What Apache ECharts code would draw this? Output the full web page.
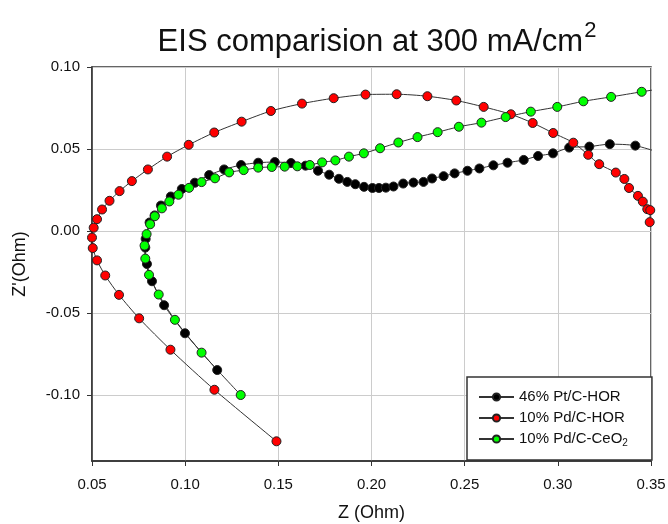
<!DOCTYPE html>
<html>
<head>
<meta charset="utf-8">
<script src="https://cdn.jsdelivr.net/npm/echarts@6/dist/echarts.min.js"></script>
<style>
html,body{margin:0;padding:0;background:#fff;}
#chart{width:668px;height:524px;}
</style>
</head>
<body>
<div id="chart"></div>
<script>
// ---- data ----
var seriesNames = ['46% Pt/C-HOR', '10% Pd/C-HOR', '10% Pd/C-CeO2'];

var ptX = [0.1172,0.0999,0.0887,0.0822,0.0795,0.0786,0.0788,0.0809,0.0836,0.0870,0.0923,0.0982,0.1052,0.1129,0.1209,0.1300,0.1392,0.1481,0.1568,0.1646,0.1713,0.1773,0.1825,0.1870,0.1913,0.1960,0.2005,0.2040,0.2077,0.2118,0.2170,0.2225,0.2279,0.2325,0.2387,0.2446,0.2515,0.2579,0.2654,0.2730,0.2817,0.2894,0.2974,0.3061,0.3169,0.3279,0.3416,0.3600];
var ptY = [-0.0846,-0.0622,-0.0451,-0.0305,-0.0200,-0.0100,-0.0047,0.0053,0.0096,0.0156,0.0211,0.0257,0.0295,0.0342,0.0376,0.0403,0.0417,0.0421,0.0415,0.0399,0.0368,0.0344,0.0319,0.0300,0.0286,0.0270,0.0263,0.0263,0.0265,0.0272,0.0290,0.0296,0.0300,0.0321,0.0335,0.0352,0.0368,0.0382,0.0401,0.0417,0.0434,0.0458,0.0474,0.0509,0.0515,0.0530,0.0521,0.0460];

var pdX = [0.1490,0.1157,0.0921,0.0753,0.0645,0.0571,0.0527,0.0504,0.0500,0.0509,0.0527,0.0554,0.0594,0.0648,0.0714,0.0800,0.0903,0.1019,0.1156,0.1303,0.1460,0.1627,0.1797,0.1968,0.2135,0.2300,0.2455,0.2602,0.2748,0.2865,0.2975,0.3083,0.3163,0.3222,0.3311,0.3357,0.3382,0.3430,0.3456,0.3480,0.3496,0.3493];
var pdY = [-0.1280,-0.0966,-0.0722,-0.0531,-0.0388,-0.0270,-0.0178,-0.0103,-0.0039,0.0021,0.0073,0.0132,0.0185,0.0244,0.0305,0.0376,0.0454,0.0526,0.0601,0.0667,0.0732,0.0777,0.0810,0.0832,0.0834,0.0822,0.0796,0.0757,0.0712,0.0659,0.0598,0.0539,0.0465,0.0408,0.0357,0.0318,0.0263,0.0215,0.0180,0.0134,0.0128,0.0055];

var ceX = [0.1298,0.1088,0.0945,0.0858,0.0806,0.0786,0.0782,0.0793,0.0812,0.0837,0.0875,0.0915,0.0964,0.1021,0.1088,0.1160,0.1236,0.1314,0.1392,0.1465,0.1534,0.1602,0.1669,0.1735,0.1806,0.1879,0.1959,0.2046,0.2144,0.2247,0.2355,0.2469,0.2590,0.2720,0.2855,0.2997,0.3137,0.3286,0.3450,0.3600];
var ceY = [-0.0998,-0.0740,-0.0540,-0.0386,-0.0266,-0.0167,-0.0088,-0.0018,0.0042,0.0091,0.0139,0.0181,0.0222,0.0264,0.0299,0.0322,0.0358,0.0372,0.0387,0.0391,0.0393,0.0395,0.0403,0.0419,0.0431,0.0454,0.0474,0.0505,0.0540,0.0573,0.0603,0.0636,0.0661,0.0695,0.0728,0.0757,0.0791,0.0818,0.0849,0.0876];

var xTicks = [0.05, 0.10, 0.15, 0.20, 0.25, 0.30, 0.35];
var yTicks = [-0.10, -0.05, 0.00, 0.05, 0.10];
var xRange = [0.05, 0.35];
var yRange = [-0.14, 0.10];
var seriesColors = ['#000000', '#ff0000', '#00ff00'];

// ---- build chart ----
function zip(xs, ys) { return xs.map(function (x, i) { return [x, ys[i]]; }); }
var allData = [zip(ptX, ptY), zip(pdX, pdY), zip(ceX, ceY)];
var FONT = 'Liberation Sans, Arial, sans-serif';

var chart = echarts.init(document.getElementById('chart'), null, {renderer: 'canvas'});
var option = {
  animation: false,
  backgroundColor: '#ffffff',
  title: {
    text: '{m|EIS comparision at 300 mA/cm}{s|2}',
    left: 372,
    top: 15,
    textAlign: 'center',
    textStyle: {
      fontWeight: 'normal',
      rich: {
        m: {fontFamily: FONT, fontSize: 31, fontWeight: 'normal', color: '#111', lineHeight: 38, verticalAlign: 'bottom'},
        s: {fontFamily: FONT, fontSize: 22, fontWeight: 'normal', color: '#111', lineHeight: 38, verticalAlign: 'top', padding: [0, 0, 8, 1]}
      }
    }
  },
  grid: {
    left: 92, right: 17, top: 67, bottom: 63,
    containLabel: false, outerBoundsMode: 'none',
    show: true, borderColor: '#333', borderWidth: 1.5, backgroundColor: 'transparent'
  },
  legend: {
    orient: 'vertical',
    left: 467, top: 377,
    padding: [11, 24, 12, 11],
    itemWidth: 35, itemHeight: 9, itemGap: 3,
    borderColor: '#333', borderWidth: 1.5, backgroundColor: '#fff',
    data: seriesNames,
    formatter: function (name) {
      return name === '10% Pd/C-CeO2' ? '10% Pd/C-CeO{sub|2}' : name;
    },
    textStyle: {
      fontFamily: FONT, fontSize: 15, color: '#111', lineHeight: 18,
      rich: {sub: {fontFamily: FONT, fontSize: 10, color: '#111', verticalAlign: 'bottom', lineHeight: 18, padding: [5, 0, 0, 0]}}
    }
  },
  xAxis: {
    type: 'value',
    min: xRange[0], max: xRange[1], interval: 0.05,
    name: 'Z (Ohm)', nameLocation: 'middle', nameGap: 43,
    nameTextStyle: {fontFamily: FONT, fontSize: 18, color: '#111'},
    axisLine: {show: true, onZero: false, lineStyle: {color: '#333', width: 1.5}},
    axisTick: {show: true, inside: false, length: 5, lineStyle: {color: '#333'}, customValues: xTicks},
    axisLabel: {fontFamily: FONT, fontSize: 15, color: '#111', margin: 16, customValues: xTicks,
      formatter: function (v) { return v.toFixed(2); }},
    splitLine: {show: true, lineStyle: {color: '#cccccc', width: 1}}
  },
  yAxis: {
    type: 'value',
    min: yRange[0], max: yRange[1], splitNumber: 5, minInterval: 0.05, maxInterval: 0.05,
    name: "Z'(Ohm)", nameLocation: 'middle', nameGap: 63, nameRotate: 90,
    nameTextStyle: {fontFamily: FONT, fontSize: 18, color: '#111'},
    axisLine: {show: true, onZero: false, lineStyle: {color: '#333', width: 1.5}},
    axisTick: {show: true, inside: false, length: 5, lineStyle: {color: '#333'}, customValues: yTicks},
    axisLabel: {fontFamily: FONT, fontSize: 15, color: '#111', margin: 12, customValues: yTicks,
      formatter: function (v) {
        if (Math.abs(v * 20 - Math.round(v * 20)) > 1e-6) return '';
        var s = (Math.abs(v) < 1e-9 ? 0 : v).toFixed(2);
        return s;
      }},
    splitLine: {show: true, lineStyle: {color: '#cccccc', width: 1}}
  },
  series: seriesNames.map(function (name, i) {
    return {
      name: name,
      type: 'line',
      data: allData[i],
      clip: true,
      smooth: 0.25,
      symbol: 'circle',
      symbolSize: 9,
      showAllSymbol: true,
      lineStyle: {color: '#333', width: 1},
      itemStyle: {color: seriesColors[i], borderColor: '#222', borderWidth: 1},
      emphasis: {disabled: true}
    };
  })
};
chart.setOption(option);
</script>
</body>
</html>
